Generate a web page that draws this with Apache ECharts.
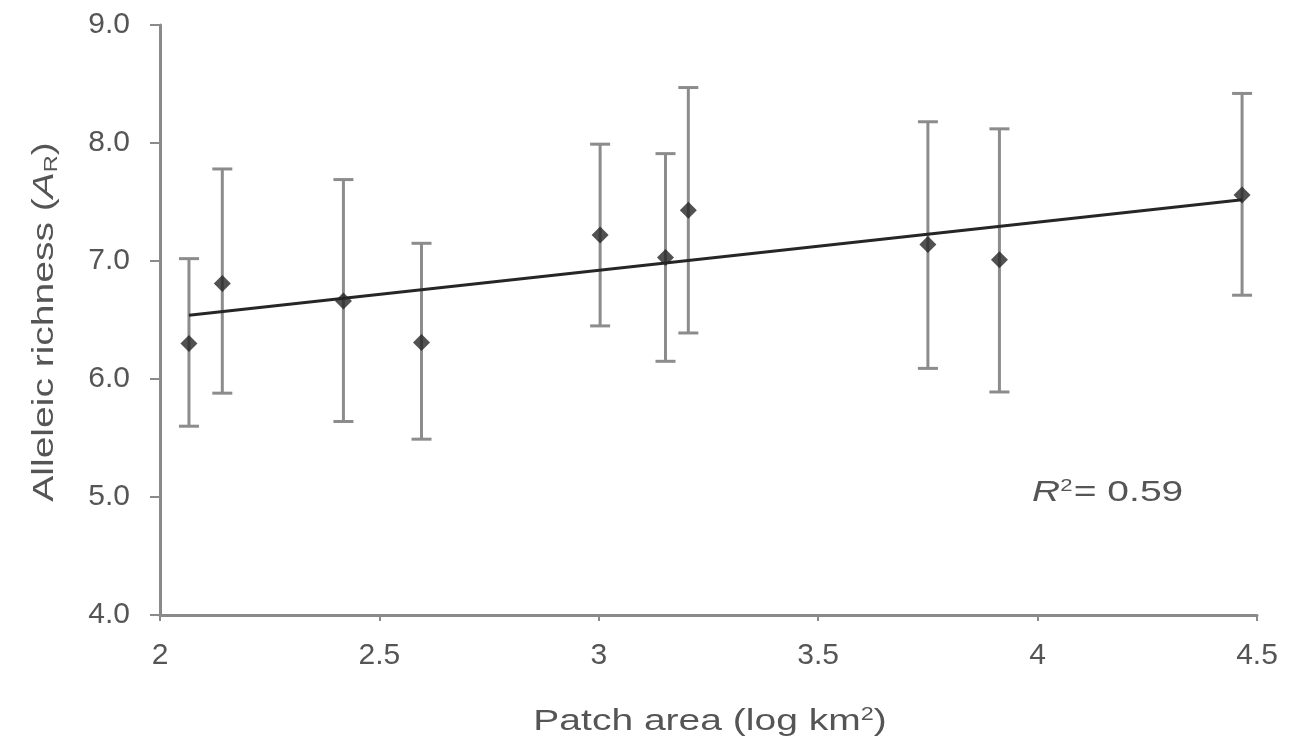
<!DOCTYPE html>
<html>
<head>
<meta charset="utf-8">
<script src="https://cdn.jsdelivr.net/npm/echarts@6/dist/echarts.min.js"></script>
<style>html,body{margin:0;padding:0;background:#fff;}#c{width:1300px;height:742px;}</style>
</head>
<body>
<div id="c"></div>
<script>
// Patch area (log km2)
var patchArea = [2.066, 2.142, 2.418, 2.596, 3.003, 3.152, 3.204, 3.750, 3.913, 4.466];
// Mean allelic richness
var richness  = [6.30, 6.81, 6.66, 6.31, 7.22, 7.03, 7.43, 7.14, 7.01, 7.56];
// Error bar upper / lower ends
var upper     = [7.02, 7.78, 7.69, 7.15, 7.99, 7.91, 8.47, 8.18, 8.12, 8.42];
var lower     = [5.60, 5.88, 5.64, 5.49, 6.45, 6.15, 6.39, 6.09, 5.89, 6.71];
// Regression line end points
var fitX = [2.066, 4.466];
var fitY = [6.54, 7.52];
var rSquared = "0.59";
var xTitle = ["Patch area (log km", "2", ")"];
var yTitle = ["Alleleic richness (", "A", "R", ")"];

var font = "'Liberation Sans', Arial, Helvetica, sans-serif";
var txt = '#555';
var chart = echarts.init(document.getElementById('c'));

var errData = patchArea.map(function (x, i) { return [x, lower[i], upper[i]]; });
var ptData = patchArea.map(function (x, i) { return [x, richness[i]]; });
var fitData = fitX.map(function (x, i) { return [x, fitY[i]]; });

chart.setOption({
  animation: false,
  backgroundColor: '#fff',
  grid: { left: 160, right: 43, top: 25, bottom: 127, containLabel: false },
  xAxis: {
    type: 'value', min: 2, max: 4.5, interval: 0.5,
    axisLine: { show: true, onZero: false, lineStyle: { color: '#8a8a8a', width: 3 } },
    axisTick: { show: true, length: 6, lineStyle: { color: '#8a8a8a', width: 2 } },
    axisLabel: { fontFamily: font, fontSize: 30, color: txt, margin: 26 },
    splitLine: { show: false }
  },
  yAxis: {
    type: 'value', min: 4, max: 9, interval: 1,
    axisLine: { show: true, onZero: false, lineStyle: { color: '#8a8a8a', width: 3 } },
    axisTick: { show: true, length: 10, lineStyle: { color: '#8a8a8a', width: 2 } },
    axisLabel: { fontFamily: font, fontSize: 30, color: txt, margin: 30,
      formatter: function (v) { return v.toFixed(1); } },
    splitLine: { show: false }
  },
  series: [
    {
      type: 'custom',
      data: errData,
      z: 2,
      renderItem: function (params, api) {
        var x = api.value(0);
        var lo = api.coord([x, api.value(1)]);
        var hi = api.coord([x, api.value(2)]);
        var hw = 10;
        var st = { stroke: '#8c8c8c', lineWidth: 3 };
        return {
          type: 'group',
          children: [
            { type: 'line', shape: { x1: hi[0], y1: hi[1], x2: lo[0], y2: lo[1] }, style: st },
            { type: 'line', shape: { x1: hi[0] - hw, y1: hi[1], x2: hi[0] + hw, y2: hi[1] }, style: st },
            { type: 'line', shape: { x1: lo[0] - hw, y1: lo[1], x2: lo[0] + hw, y2: lo[1] }, style: st }
          ]
        };
      }
    },
    {
      type: 'line',
      data: fitData,
      symbol: 'none',
      z: 3,
      lineStyle: { color: '#262626', width: 3 }
    },
    {
      type: 'scatter',
      data: ptData,
      symbol: 'diamond',
      symbolSize: [17, 17],
      z: 4,
      itemStyle: { color: '#262626' }
    }
  ],
  graphic: [
    {
      type: 'text',
      x: 1032, y: 493, scaleX: 1.3,
      style: {
        text: '{i|R}{sup|2}{n|= ' + rSquared + '}',
        verticalAlign: 'middle',
        rich: {
          i: { fontFamily: font, fontSize: 30, fontStyle: 'italic', fill: txt },
          sup: { fontFamily: font, fontSize: 17, fill: txt, verticalAlign: 'top', padding: [0, 1, 14, 0] },
          n: { fontFamily: font, fontSize: 30, fill: txt }
        }
      }
    },
    {
      type: 'text',
      x: 710, y: 722, scaleX: 1.3,
      style: {
        text: '{n|' + xTitle[0] + '}{sup|' + xTitle[1] + '}{n|' + xTitle[2] + '}',
        align: 'center', verticalAlign: 'middle',
        rich: {
          n: { fontFamily: font, fontSize: 30, fill: txt },
          sup: { fontFamily: font, fontSize: 18, fill: txt, verticalAlign: 'top', padding: [0, 0, 14, 0] }
        }
      }
    },
    {
      type: 'text',
      x: 45, y: 322, rotation: Math.PI / 2, scaleX: 1.3,
      style: {
        text: '{n|' + yTitle[0] + '}{i|' + yTitle[1] + '}{sub|' + yTitle[2] + '}{n|' + yTitle[3] + '}',
        align: 'center', verticalAlign: 'middle',
        rich: {
          n: { fontFamily: font, fontSize: 30, fill: txt },
          i: { fontFamily: font, fontSize: 30, fontStyle: 'italic', fill: txt },
          sub: { fontFamily: font, fontSize: 18, fill: txt, verticalAlign: 'bottom', padding: [14, 0, 0, 0] }
        }
      }
    }
  ]
});
</script>
</body>
</html>
